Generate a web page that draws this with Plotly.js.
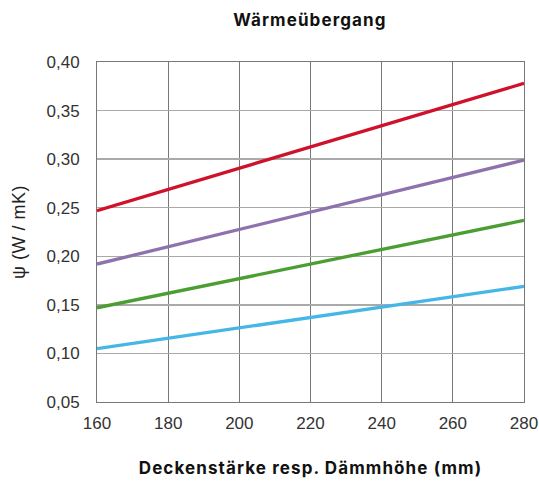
<!DOCTYPE html>
<html><head><meta charset="utf-8">
<script src="https://cdn.plot.ly/plotly-3.0.1.min.js"></script>
<style>html,body{margin:0;padding:0;background:#fff}#c{width:539px;height:481px}
.gtitle, .xtitle { letter-spacing: 1.1px; }
.ytitle { letter-spacing: 0.5px; }
</style>
</head><body><div id="c"></div>
<script>
const xVals = [160, 280];
const redY = [0.247, 0.378];
const purpleY = [0.192, 0.299];
const greenY = [0.147, 0.237];
const blueY = [0.105, 0.169];
const seriesColors = ['#d0112b', '#8e72ad', '#4a9e32', '#46b6e6'];
const seriesY = [redY, purpleY, greenY, blueY];

const traces = seriesY.map((y, i) => ({
  x: xVals, y: y, type: 'scatter', mode: 'lines',
  line: {color: seriesColors[i], width: 3.3}, showlegend: false, hoverinfo: 'skip'
}));

const layout = {
  width: 539, height: 481,
  margin: {l: 97, r: 15, t: 62, b: 79},
  separators: ',.',
  paper_bgcolor: '#fff', plot_bgcolor: '#fff',
  font: {family: '"Liberation Sans", Arial, sans-serif', color: '#222', size: 16},
  title: {text: '<b>Wärmeübergang</b>', x: 0.575, xanchor: 'center', y: 0.958, yanchor: 'middle',
          font: {family: 'Inter, sans-serif', size: 17, color: '#111'}},
  xaxis: {range: [160, 280], dtick: 20, tick0: 160, showgrid: true, gridcolor: '#777', gridwidth: 1,
          showline: true, linecolor: '#777', mirror: true, ticks: '', zeroline: false,
          tickfont: {size: 17, color: '#333'}, ticklabelstandoff: 6,
          title: {text: '<b>Deckenstärke resp. Dämmhöhe (mm)</b>', standoff: 29,
                  font: {family: 'Inter, sans-serif', size: 17, color: '#111'}}},
  yaxis: {range: [0.05, 0.40], dtick: 0.05, tick0: 0.05, tickformat: '.2f', showgrid: true, gridcolor: '#aaa', gridwidth: 1.5,
          showline: true, linecolor: '#777', mirror: true, ticks: '', zeroline: false,
          tickfont: {size: 17, color: '#333'}, ticklabelstandoff: 13,
          title: {text: 'ψ (W / mK)', standoff: 16, font: {size: 18, color: '#222'}}}
};
Plotly.newPlot('c', traces, layout, {staticPlot: true});
</script></body></html>
